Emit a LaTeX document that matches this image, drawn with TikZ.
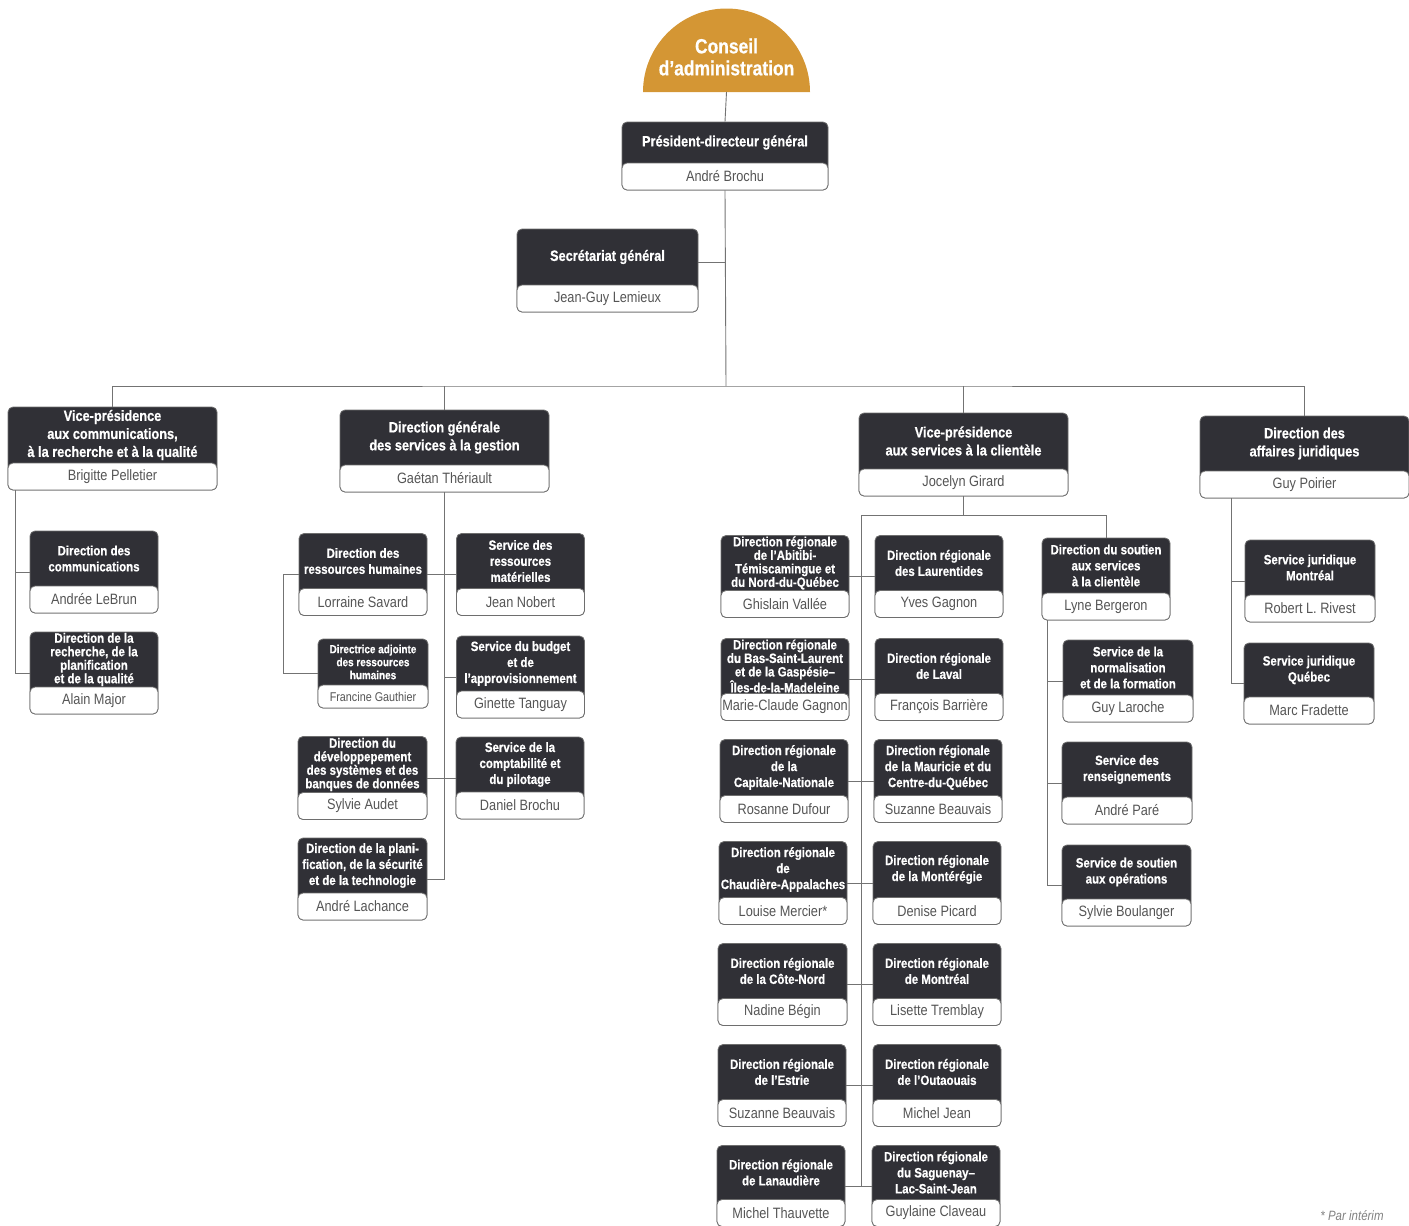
\documentclass[tikz,border=0pt]{standalone}
\usepackage{fontspec}
\usepackage{tikz}
\usetikzlibrary{calc,positioning}
\newfontfamily\cond{Liberation Sans}[FakeStretch=0.85,BoldFeatures={FakeBold=0.6}]
\definecolor{sombre}{RGB}{48,48,54}
\definecolor{bord}{RGB}{110,110,110}
\definecolor{trait}{RGB}{115,115,115}
\definecolor{gristexte}{RGB}{85,85,85}
\definecolor{conseilor}{RGB}{212,150,52}
\tikzstyle{fond}=[fill=sombre,draw=bord,line width=0.8pt,rounded corners=5pt,inner sep=0pt]
\tikzstyle{titre}=[text=white,align=center,inner sep=0pt,font=\cond\bfseries\fontsize{13.5}{16}\selectfont]
\tikzstyle{serre}=[font=\cond\bfseries\fontsize{13.5}{13.5}\selectfont]
\tikzstyle{grand}=[font=\cond\bfseries\fontsize{15}{18}\selectfont]
\tikzstyle{nom}=[fill=white,draw=bord,line width=0.8pt,rounded corners=5pt,minimum height=27pt,inner sep=0pt,text=gristexte,font=\cond\fontsize{15}{16}\selectfont]
\tikzstyle{lien}=[draw=trait,line width=0.9pt]
% one box: [title style]{name}{x}{y}{width}{height}{title}{person}
\newcommand{\boite}[8][]{%
  \node (#2) [fond,minimum width=#5pt,minimum height=#6pt] at (#3,#4) {};
  \node (#2-t) [titre,#1] at ($(#2.center)+(0,-13.5)$) {#7};
  \node (#2-n) [nom,minimum width=#5pt,anchor=south] at (#2.south) {#8};
}

\begin{document}
\begin{tikzpicture}[x=1pt,y=-1pt]
  \useasboundingbox (0,0) rectangle (1409,1226);

  % Conseil
  \fill[conseilor] (643,92) arc[start angle=180,end angle=0,radius=83.5pt] -- cycle;
  \coordinate (dome) at (726.5,92);
  \node (conseil) [text=white,align=center,font=\cond\bfseries\fontsize{20.5}{22}\selectfont] at (726.5,57) {Conseil\\d’administration};

  % Top
  \boite[grand]{pdg}{725}{156}{206}{68}{Président-directeur général}{André Brochu}
  \boite[grand]{sg}{607.5}{270.5}{181}{83}{Secrétariat général}{Jean-Guy Lemieux}

  % First line:
  \boite[grand]{vpc}{112.5}{448.5}{209}{83}{Vice-présidence\\aux communications,\\à la recherche et à la qualité}{Brigitte Pelletier}
  \boite[grand]{dg}{444.5}{451}{209}{82}{Direction générale\\des services à la gestion}{Gaétan Thériault}
  \boite[grand]{vps}{963.5}{454.5}{209}{83}{Vice-présidence\\aux services à la clientèle}{Jocelyn Girard}
  \boite[grand]{daj}{1304.5}{457}{209}{82}{Direction des\\affaires juridiques}{Guy Poirier}

  % Communications
  \boite{dcom}{94}{572}{128}{82}{Direction des\\communications}{Andrée LeBrun}
  \boite[serre]{drech}{94}{673}{128}{82}{Direction de la\\recherche, de la\\planification\\et de la qualité}{Alain Major}

  % Services a la gestion
  \boite{drh}{363}{574.5}{128}{82}{Direction des\\ressources humaines}{Lorraine Savard}
  \boite{srm}{520.5}{574.5}{128}{82}{Service des\\ressources\\matérielles}{Jean Nobert}
  \node (dra) [fond,minimum width=110pt,minimum height=69pt] at (373,673.5) {};
  \node (dra-t) [titre,font=\cond\bfseries\fontsize{11.7}{13}\selectfont] at ($(dra.center)+(0,-11.5)$) {Directrice adjointe\\des ressources\\humaines};
  \node (dra-n) [nom,minimum width=110pt,minimum height=23pt,anchor=south,font=\cond\fontsize{12.7}{14}\selectfont] at (dra.south) {Francine Gauthier};
  \boite{sbud}{520.5}{677}{128}{82}{Service du budget\\et de\\l’approvisionnement}{Ginette Tanguay}
  \boite[serre]{dsys}{362.5}{778}{129}{83}{Direction du\\développepement\\des systèmes et des\\banques de données}{Sylvie Audet}
  \boite{scpt}{520}{778}{128}{82}{Service de la\\comptabilité et\\du pilotage}{Daniel Brochu}
  \boite{dplan}{362.5}{879}{129}{82}{Direction de la plani-\\fication, de la sécurité\\et de la technologie}{André Lachance}

  % Directions regionales
  \boite[serre]{abi}{785}{576.5}{128}{82}{Direction régionale\\de l’Abitibi-\\Témiscamingue et\\du Nord-du-Québec}{Ghislain Vallée}
  \boite{lau}{939}{576.5}{128}{82}{Direction régionale\\des Laurentides}{Yves Gagnon}
  \boite[serre]{bsl}{785}{679.5}{128}{82}{Direction régionale\\du Bas-Saint-Laurent\\et de la Gaspésie–\\Îles-de-la-Madeleine}{Marie-Claude Gagnon}
  \boite{lav}{939}{679.5}{128}{82}{Direction régionale\\de Laval}{François Barrière}
  \boite{cap}{784}{781}{128}{83}{Direction régionale\\de la\\Capitale-Nationale}{Rosanne Dufour}
  \boite{mau}{938}{781}{128}{83}{Direction régionale\\de la Mauricie et du\\Centre-du-Québec}{Suzanne Beauvais}
  \boite{cha}{783}{883}{128}{83}{Direction régionale\\de\\Chaudière-Appalaches}{Louise Mercier*}
  \boite{mon}{937}{883}{128}{83}{Direction régionale\\de la Montérégie}{Denise Picard}
  \boite{cot}{782.5}{984.5}{129}{82}{Direction régionale\\de la Côte-Nord}{Nadine Bégin}
  \boite{mtl}{937}{984.5}{128}{82}{Direction régionale\\de Montréal}{Lisette Tremblay}
  \boite{est}{782}{1085.5}{128}{82}{Direction régionale\\de l’Estrie}{Suzanne Beauvais}
  \boite{out}{937}{1085.5}{128}{82}{Direction régionale\\de l’Outaouais}{Michel Jean}
  \boite{lan}{781}{1186}{128}{81}{Direction régionale\\de Lanaudière}{Michel Thauvette}
  \boite{sag}{936}{1186}{128}{81}{Direction régionale\\du Saguenay–\\Lac-Saint-Jean}{Guylaine Claveau}

  % Soutien aux services
  \boite{dsout}{1106}{579}{128}{82}{Direction du soutien\\aux services\\à la clientèle}{Lyne Bergeron}
  \boite{snorm}{1128}{681}{130}{82}{Service de la\\normalisation\\et de la formation}{Guy Laroche}
  \boite{sren}{1127}{783}{130}{82}{Service des\\renseignements}{André Paré}
  \boite{sops}{1126.5}{885.5}{129}{81}{Service de soutien\\aux opérations}{Sylvie Boulanger}

  % Affaires juridiques
  \boite{sjm}{1310}{581}{130}{82}{Service juridique\\Montréal}{Robert L. Rivest}
  \boite{sjq}{1309}{683.5}{130}{81}{Service juridique\\Québec}{Marc Fradette}

  \node (note) [text=gray,font=\cond\itshape\fontsize{13.5}{15}\selectfont] at (1352,1216) {* Par intérim};

  % Links
  \coordinate (bus) at (726,386);
  \draw[lien] (dome) -- (pdg.north);
  \draw[lien] (pdg.south) -- (bus);
  \draw[lien] ([yshift=8.5pt]sg.east) -- ([yshift=8.5pt]sg.east -| bus);
  \draw[lien] (vpc.north) |- (bus) -| (daj.north);
  \draw[lien] (dg.north) -- (dg.north |- bus);
  \draw[lien] (vps.north) -- (vps.north |- bus);

  \draw[lien] ([xshift=8pt]vpc.south west) |- (dcom.west);
  \draw[lien] ([xshift=8pt]vpc.south west) |- (drech.west);

  \draw[lien] (dg.south) |- (dplan.east);
  \draw[lien] (drh.east) -- (srm.west);
  \draw[lien] (drh.west) -- ++(-15,0) |- (dra.west);
  \draw[lien] (sbud.west) -- (sbud.west -| dg.south);
  \draw[lien] (dsys.east) -- (scpt.west);

  \coordinate (fourche) at (963.5,515);
  \coordinate (tronc) at (861,515);
  \draw[lien] (vps.south) -- (fourche);
  \draw[lien] (tronc) -| (dsout.north);
  \draw[lien] (tronc) -- (tronc |- lan.east);
  \draw[lien] (abi.east) -- (lau.west);
  \draw[lien] (bsl.east) -- (lav.west);
  \draw[lien] (cap.east) -- (mau.west);
  \draw[lien] (cha.east) -- (mon.west);
  \draw[lien] (cot.east) -- (mtl.west);
  \draw[lien] (est.east) -- (out.west);
  \draw[lien] (lan.east) -- (sag.west);

  \draw[lien] ([xshift=6pt]dsout.south west) |- (snorm.west);
  \draw[lien] ([xshift=6pt]dsout.south west) |- (sren.west);
  \draw[lien] ([xshift=6pt]dsout.south west) |- (sops.west);

  \draw[lien] ([xshift=32pt]daj.south west) |- (sjm.west);
  \draw[lien] ([xshift=32pt]daj.south west) |- (sjq.west);
\end{tikzpicture}
\end{document}
